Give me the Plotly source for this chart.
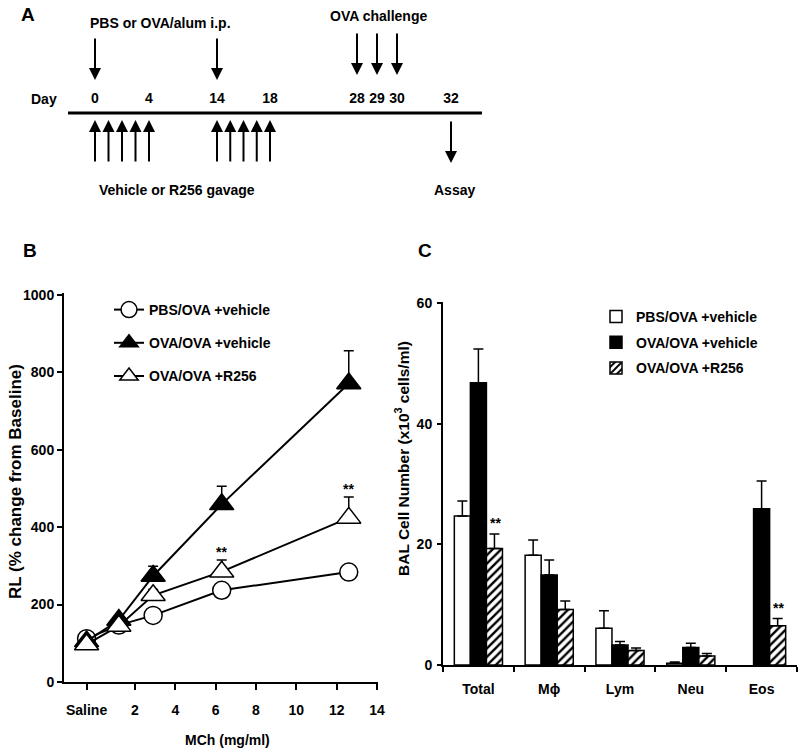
import numpy as np
import plotly.graph_objects as go

# ---------------- data ----------------
# Panel A: protocol schedule (days)
DAY_LABELS = [0, 4, 14, 18, 28, 29, 30, 32]
SENSITIZATION_DAYS = [0, 14]
CHALLENGE_DAYS = [28, 29, 30]
GAVAGE_DAYS = [0, 1, 2, 3, 4, 14, 15, 16, 17, 18]
ASSAY_DAYS = [32]

# Panel B: airway resistance vs MCh dose
MCH_DOSE = [-0.4, 1.2, 2.9, 6.3, 12.6]
MCH_TICKS = [-0.4, 2, 4, 6, 8, 10, 12, 14]
MCH_TICK_TEXT = ["Saline", "2", "4", "6", "8", "10", "12", "14"]
RL_PBS = [112, 147, 172, 237, 284]
RL_PBS_ERR = [0, 0, 0, 0, 0]
RL_OVA = [105, 160, 274, 459, 771]
RL_OVA_ERR = [5, 10, 25, 47, 85]
RL_R256 = [97, 145, 224, 285, 424]
RL_R256_ERR = [5, 10, 15, 30, 54]
RL_SIG_IDX = [3, 4]

# Panel C: BAL cell counts (x10^3 cells/ml)
CELL_TYPES = ["Total", "M\u03d5", "Lym", "Neu", "Eos"]
BAL_PBS = [24.7, 18.2, 6.1, 0.3, None]
BAL_PBS_ERR = [2.5, 2.5, 2.9, 0.2, 0]
BAL_OVA = [46.8, 14.9, 3.3, 2.9, 25.9]
BAL_OVA_ERR = [5.6, 2.5, 0.6, 0.7, 4.6]
BAL_R256 = [19.3, 9.2, 2.4, 1.5, 6.5]
BAL_R256_ERR = [2.4, 1.4, 0.4, 0.4, 1.2]
BAL_SIG_IDX = [0, 4]

SERIES_NAMES = ["PBS/OVA +vehicle", "OVA/OVA +vehicle", "OVA/OVA +R256"]

# ---------------- layout helpers ----------------
W, H = 800, 755
FONT = "Liberation Sans"


def px(x):
    return x / W


def py(y):
    return 1 - y / H


# schematic (non-linear) day scale for panel A
SCHEM_DAYS = [0, 4, 14, 18, 28, 30, 32]
SCHEM_PX = [95, 149, 217, 270, 357, 397, 451]


def day_x(d):
    return float(np.interp(d, SCHEM_DAYS, SCHEM_PX))


A_LINE_Y = 113
A_LABEL_Y = 99

fig = go.Figure()

# ---------- Panel A ----------
fig.add_trace(go.Scatter(
    x=[day_x(d) for d in DAY_LABELS], y=[A_LABEL_Y] * len(DAY_LABELS),
    text=[str(d) for d in DAY_LABELS], mode="text",
    textfont=dict(family=FONT, size=14, color="black", weight="bold"),
    showlegend=False, hoverinfo="skip", xaxis="x", yaxis="y"))

annotations = []
shapes = []

shapes.append(dict(type="line", xref="x", yref="y", x0=68, x1=482,
                   y0=A_LINE_Y, y1=A_LINE_Y, line=dict(color="black", width=3)))


def arrow(x, y_head, y_tail):
    return dict(x=x, y=y_head, ax=x, ay=y_tail, xref="x", yref="y",
                axref="x", ayref="y", text="", showarrow=True,
                arrowhead=2, arrowsize=1.2, arrowwidth=2, arrowcolor="black")


for d in SENSITIZATION_DAYS:
    annotations.append(arrow(day_x(d), 80, 37))
for d in CHALLENGE_DAYS:
    annotations.append(arrow(day_x(d), 75, 32))
for d in GAVAGE_DAYS:
    annotations.append(arrow(day_x(d), 120, 163))
for d in ASSAY_DAYS:
    annotations.append(arrow(day_x(d), 163, 120))


def label(text, x, y, size=14, xanchor="center", xref="paper", yref="paper", **kw):
    d = dict(text=text, x=x, y=y, xref=xref, yref=yref, showarrow=False,
             xanchor=xanchor, yanchor="middle",
             font=dict(family=FONT, size=size, color="black", weight="bold"))
    d.update(kw)
    return d


annotations += [
    label("A", px(28), py(15), size=19),
    label("B", px(30), py(251), size=19),
    label("C", px(425), py(251), size=19),
    label("PBS or OVA/alum i.p.", px(160), py(23)),
    label("OVA challenge", px(378), py(16)),
    label("Day", px(44), py(A_LABEL_Y)),
    label("Vehicle or R256 gavage", px(177), py(190)),
    label("Assay", px(454), py(190)),
    label("RL (% change from Baseline)", px(15), py(482), size=17, textangle=-90),
    label("MCh (mg/ml)", px(227), py(740)),
    label("BAL Cell Number (x10<sup>3</sup> cells/ml)", px(402), py(458), size=15.5,
          textangle=-90),
]

# ---------- Panel B ----------
markers = [
    dict(symbol="circle", size=18, color="white", line=dict(color="black", width=1.5)),
    dict(symbol="triangle-up", size=21, color="black", line=dict(color="black", width=1.5)),
    dict(symbol="triangle-up", size=21, color="white", line=dict(color="black", width=1.5)),
]
for i, (vals, errs) in enumerate([(RL_PBS, RL_PBS_ERR), (RL_OVA, RL_OVA_ERR),
                                  (RL_R256, RL_R256_ERR)]):
    fig.add_trace(go.Scatter(
        x=MCH_DOSE, y=vals, mode="lines+markers", name=SERIES_NAMES[i],
        line=dict(color="black", width=2), marker=markers[i],
        error_y=dict(type="data", array=errs, arrayminus=[0] * len(errs),
                     symmetric=False, color="black", thickness=1.5, width=5),
        xaxis="x2", yaxis="y2", legend="legend", legendgroup="b%d" % i))

for idx in RL_SIG_IDX:
    annotations.append(dict(text="**", x=MCH_DOSE[idx], y=RL_R256[idx] + RL_R256_ERR[idx],
                            xref="x2", yref="y2", showarrow=False, yanchor="bottom",
                            yshift=-2, font=dict(family=FONT, size=14, color="black",
                                                 weight="bold")))

# ---------- Panel C ----------
bar_styles = [
    dict(color="white", line=dict(color="black", width=1.5)),
    dict(color="black", line=dict(color="black", width=1.5)),
    dict(color="white", line=dict(color="black", width=1.5),
         pattern=dict(shape="/", fgcolor="black", bgcolor="white", size=6, solidity=0.4)),
]
for i, (vals, errs) in enumerate([(BAL_PBS, BAL_PBS_ERR), (BAL_OVA, BAL_OVA_ERR),
                                  (BAL_R256, BAL_R256_ERR)]):
    fig.add_trace(go.Bar(
        x=CELL_TYPES, y=vals, name=SERIES_NAMES[i], marker=bar_styles[i],
        error_y=dict(type="data", array=errs, arrayminus=[0] * len(errs),
                     symmetric=False, color="black", thickness=1.5, width=5),
        xaxis="x3", yaxis="y3", legend="legend2", legendgroup="c%d" % i))

for idx in BAL_SIG_IDX:
    annotations.append(dict(text="**", x=CELL_TYPES[idx], y=BAL_R256[idx] + BAL_R256_ERR[idx],
                            xref="x3", yref="y3", showarrow=False, yanchor="bottom",
                            xshift=17, yshift=1,
                            font=dict(family=FONT, size=14, color="black", weight="bold")))

tickfont = dict(family=FONT, size=14, color="black", weight="bold")
axis_common = dict(showline=True, linecolor="black", linewidth=2, ticks="outside",
                   tickcolor="black", tickwidth=2, showgrid=False, zeroline=False,
                   tickfont=tickfont, fixedrange=True, automargin=False)

fig.update_layout(
    template="none",
    width=W, height=H, margin=dict(l=0, r=0, t=0, b=0, pad=0, autoexpand=False),
    paper_bgcolor="white", plot_bgcolor="white",
    font=dict(family=FONT, size=14, color="black", weight="bold"),
    xaxis=dict(domain=[0, 1], range=[0, 800], visible=False, anchor="y", automargin=False),
    yaxis=dict(domain=[py(220), 1], range=[220, 0], visible=False, anchor="x",
               automargin=False),
    xaxis2=dict(domain=[px(64), px(378)], range=[-1.52, 14.05], anchor="y2",
                tickvals=MCH_TICKS, ticktext=MCH_TICK_TEXT, ticklen=6,
                ticklabelstandoff=8, **axis_common),
    yaxis2=dict(domain=[py(682), py(293)], range=[0, 1005], anchor="x2",
                tickvals=[0, 200, 400, 600, 800, 1000], ticklen=5, **axis_common),
    xaxis3=dict(domain=[px(443), px(797)], range=[-0.5, 4.5], anchor="y3",
                type="category", categoryorder="array", categoryarray=CELL_TYPES,
                tickson="boundaries", ticklen=5, ticklabelstandoff=10, **axis_common),
    yaxis3=dict(domain=[py(665), py(302)], range=[0, 60.17], anchor="x3",
                tickvals=[0, 20, 40, 60], ticklen=4, ticklabelstandoff=2, **axis_common),
    barmode="group", bargap=0.32, bargroupgap=0,
    legend=dict(x=px(109), y=py(294), xanchor="left", yanchor="top",
                bgcolor="rgba(0,0,0,0)", tracegroupgap=12,
                font=dict(family=FONT, size=14, color="black", weight="bold")),
    legend2=dict(x=px(596), y=py(301), xanchor="left", yanchor="top",
                 bgcolor="rgba(0,0,0,0)", tracegroupgap=4.5,
                 font=dict(family=FONT, size=14, color="black", weight="bold")),
    annotations=annotations, shapes=shapes,
)

fig.write_html(
    "out.html",
    config={"displayModeBar": False, "staticPlot": False},
    post_script="document.body.style.margin='0px';document.body.style.padding='0px';"
                "document.body.style.overflow='hidden';",
)
